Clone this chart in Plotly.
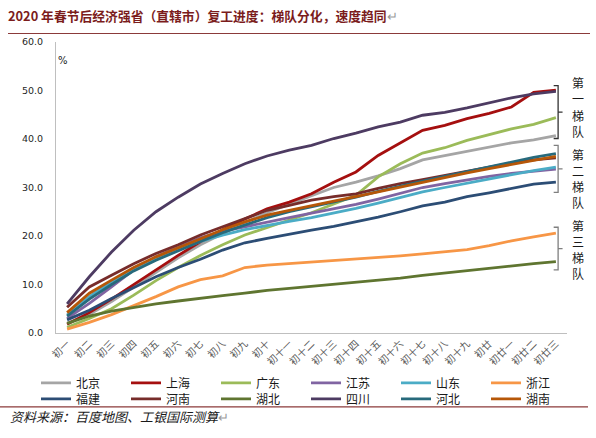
import plotly.graph_objects as go

# ---------------- data ----------------
days = ["初一", "初二", "初三", "初四", "初五", "初六", "初七", "初八", "初九", "初十",
        "初十一", "初十二", "初十三", "初十四", "初十五", "初十六", "初十七", "初十八",
        "初十九", "初廿", "初廿一", "初廿二", "初廿三"]

beijing   = [2.0, 3.8, 6.5, 9.5, 12.5, 15.5, 18.2, 20.5, 22.8, 24.8, 26.6, 28.3, 30.0, 31.1, 32.4, 33.9, 35.7, 36.6, 37.5, 38.3, 39.2, 39.8, 40.7]
shanghai  = [1.8, 4.2, 7.0, 10.0, 13.0, 16.0, 18.8, 21.3, 23.5, 25.6, 27.0, 28.7, 31.1, 33.2, 36.6, 39.2, 41.8, 42.8, 44.2, 45.3, 46.6, 49.6, 50.1]
guangdong = [1.2, 3.0, 5.0, 7.8, 10.8, 13.5, 16.0, 18.2, 20.2, 21.8, 23.3, 24.8, 26.6, 28.4, 32.2, 34.9, 37.1, 38.2, 39.7, 40.9, 42.1, 43.0, 44.4]
jiangsu   = [3.0, 6.1, 9.5, 13.0, 15.7, 17.8, 19.6, 21.0, 21.9, 22.9, 23.8, 24.7, 25.6, 26.5, 27.6, 28.8, 30.0, 30.8, 31.6, 32.3, 32.9, 33.4, 33.8]
shandong  = [3.7, 7.5, 10.6, 13.0, 15.2, 17.2, 18.9, 20.2, 21.3, 22.2, 23.0, 23.8, 24.7, 25.7, 26.8, 28.0, 29.1, 30.0, 30.9, 31.8, 32.7, 33.5, 34.2]
zhejiang  = [0.8, 2.2, 3.8, 5.6, 7.5, 9.5, 11.0, 11.8, 13.5, 14.0, 14.3, 14.6, 14.9, 15.2, 15.5, 15.9, 16.3, 16.7, 17.2, 18.0, 19.0, 19.8, 20.6]
fujian    = [2.7, 4.7, 7.1, 9.4, 11.6, 13.5, 15.2, 17.1, 18.6, 19.5, 20.4, 21.2, 22.0, 22.9, 23.9, 25.0, 26.2, 27.0, 28.1, 28.9, 29.8, 30.7, 31.1]
henan     = [5.3, 9.5, 11.9, 14.3, 16.4, 18.2, 20.2, 21.9, 23.6, 25.3, 26.3, 27.4, 28.1, 28.7, 29.8, 30.8, 31.6, 32.5, 33.4, 34.2, 35.0, 35.7, 36.1]
hubei     = [2.0, 3.5, 4.5, 5.3, 6.0, 6.6, 7.2, 7.7, 8.2, 8.8, 9.2, 9.6, 10.0, 10.4, 10.8, 11.3, 11.9, 12.4, 12.9, 13.3, 13.9, 14.3, 14.7]
sichuan   = [6.0, 11.6, 16.7, 21.2, 25.0, 28.0, 30.7, 32.9, 34.9, 36.5, 37.7, 38.7, 40.1, 41.2, 42.5, 43.5, 44.9, 45.5, 46.4, 47.4, 48.5, 49.3, 49.8]
hebei     = [3.5, 7.0, 10.0, 12.8, 15.0, 17.0, 18.9, 20.7, 22.3, 23.8, 25.0, 26.0, 27.0, 28.0, 29.2, 30.3, 31.3, 32.3, 33.3, 34.3, 35.3, 36.2, 37.0]
hunan     = [4.2, 8.2, 10.9, 13.5, 15.7, 17.6, 19.5, 21.3, 22.9, 24.3, 25.3, 26.3, 27.2, 28.1, 29.1, 30.1, 31.1, 32.0, 33.0, 33.9, 34.8, 35.6, 36.4]

series_names = ["北京", "上海", "广东", "江苏", "山东", "浙江",
                "福建", "河南", "湖北", "四川", "河北", "湖南"]
series_values = [beijing, shanghai, guangdong, jiangsu, shandong, zhejiang,
                 fujian, henan, hubei, sichuan, hebei, hunan]
series_colors = ["#A5A5A5", "#A50F0F", "#9BBB59", "#8064A2", "#4BACC6", "#F79646",
                 "#2C4D75", "#772C2A", "#5F7530", "#4D3B62", "#276A7C", "#B65708"]

y_ticks = [0, 10, 20, 30, 40, 50, 60]

# tier labels: characters, bracket top / bottom (axis units), text centre (axis units), colour
tier_chars = [["第", "一", "梯", "队"], ["第", "二", "梯", "队"], ["第", "三", "梯", "队"]]
tier_top = [51.0, 38.7, 21.8]
tier_bottom = [40.1, 29.0, 13.0]
tier_text_mid = [46.7, 32.0, 17.3]
tier_colors = ["#333333", "#7F7F7F", "#7F7F7F"]

title_text = "2020 年春节后经济强省（直辖市）复工进度：梯队分化，速度趋同<span style='color:#9a9a9a;font-weight:normal'>↵</span>"
source_text = "<i>资料来源：百度地图、工银国际测算</i><span style='color:#9a9a9a'>↵</span>"

# ---------------- layout geometry (pixels) ----------------
W, H = 596, 438
L, R, T, B = 56, 29, 41.5, 105
pw, ph = W - L - R, H - T - B
unit_px = ph / 60.0


def px(x):
    return (x - L) / pw


def py(y):
    return (H - B - y) / ph


CJK = "Noto Sans CJK SC"

fig = go.Figure()
for i, (name, vals, col) in enumerate(zip(series_names, series_values, series_colors)):
    fig.add_trace(go.Scatter(x=days, y=vals, name=name, mode="lines",
                             legend="legend" if i < 6 else "legend2",
                             line=dict(color=col, width=2.8)))

leg_common = dict(orientation="h", xanchor="left", yanchor="middle",
                  entrywidth=45, entrywidthmode="pixels",
                  font=dict(family=CJK, size=12, color="#1a1a1a"),
                  itemwidth=30, bgcolor="rgba(0,0,0,0)")

fig.update_layout(
    width=W, height=H,
    margin=dict(l=L, r=R, t=T, b=B),
    paper_bgcolor="white", plot_bgcolor="white",
    showlegend=True,
    legend=dict(x=px(36), y=py(383), **leg_common),
    legend2=dict(x=px(36), y=py(399), **leg_common),
    title=dict(text=title_text, xref="container", yref="container",
               x=8 / W, xanchor="left", y=1 - 17 / H, yanchor="middle",
               font=dict(family=CJK, size=12.8, color="#7B1C1C", weight="bold")),
    xaxis=dict(type="category", range=[-0.5, len(days) - 0.5], showgrid=False,
               showline=True, linecolor="#BFBFBF", linewidth=1, ticks="",
               tickangle=-45, tickfont=dict(family=CJK, size=10, color="#595959")),
    yaxis=dict(range=[0, 60], tickvals=y_ticks, tickformat=".1f", showgrid=False,
               showline=True, linecolor="#BFBFBF", linewidth=1, ticks="",
               ticklabelstandoff=10, zeroline=False,
               tickfont=dict(family="DejaVu Sans", size=9.5, color="#1F1F1F")),
)

# title underline and footer line
fig.add_shape(type="line", xref="paper", yref="paper", x0=px(8), x1=px(590),
              y0=py(33), y1=py(33), line=dict(color="#8B3A3A", width=1.2))
fig.add_shape(type="line", xref="paper", yref="paper", x0=px(0), x1=px(588),
              y0=py(407), y1=py(407), line=dict(color="#8B3A3A", width=1.2))

# unit label
fig.add_annotation(text="%", xref="paper", yref="paper", x=px(56), y=py(60),
                   xanchor="left", yanchor="middle", showarrow=False,
                   font=dict(family="DejaVu Sans", size=10, color="#1a1a1a"))
# source
fig.add_annotation(text=source_text, xref="paper", yref="paper", x=px(8), y=py(417),
                   xanchor="left", yanchor="middle", showarrow=False,
                   font=dict(family=CJK, size=13, color="#1a1a1a"))

# tier brackets and vertical labels
xv = len(days) - 1 + 0.1
char_step = 16.2 / unit_px  # ~16 px between stacked characters, in axis units
for chars, hi, lo, tmid, col in zip(tier_chars, tier_top, tier_bottom, tier_text_mid, tier_colors):
    mid = (hi + lo) / 2
    path = (f"M {xv - 0.2} {hi} L {xv} {hi} L {xv} {lo} L {xv - 0.2} {lo} "
            f"M {xv} {mid} L {xv + 0.2} {mid}")
    fig.add_shape(type="path", xref="x", yref="y", path=path,
                  line=dict(color=col, width=1.3))
    n = len(chars)
    for k, ch in enumerate(chars):
        yk = tmid + (n - 1) / 2 * char_step - k * char_step
        fig.add_annotation(text=ch, xref="paper", yref="y", x=px(578), y=yk,
                           xanchor="center", yanchor="middle", showarrow=False,
                           height=14, borderpad=0, valign="middle",
                           font=dict(family=CJK, size=12, color="#1a1a1a"))

fig.write_html("out.html", config={"displayModeBar": False},
               post_script="document.body.style.margin='0';")
